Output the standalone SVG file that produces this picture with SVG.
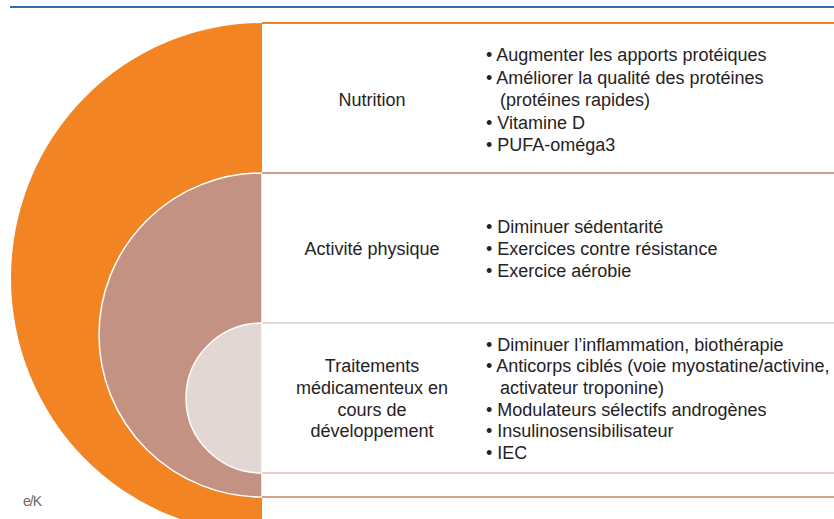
<svg xmlns="http://www.w3.org/2000/svg" width="834" height="519" viewBox="0 0 834 519">
<style>
text{font-family:"Liberation Sans",Arial,sans-serif;font-size:18px;fill:#262224}
.lbl{text-anchor:middle}
.rule{stroke-width:2;fill:none}
</style>
<rect x="0" y="0" width="834" height="519" fill="#ffffff"/>
<line x1="10" y1="7" x2="834" y2="7" stroke="#2f6fae" stroke-width="2"/>
<g id="discs">
<path id="disc-orange" d="M262,23 A251,255 0 0 0 262,533 Z" fill="#f38424"/>
<path id="disc-brown" d="M262,173 A163,162 0 0 0 262,497 Z" fill="#c39282" stroke="#ffffff" stroke-width="1.5"/>
<path id="disc-light" d="M262,323 A76,75 0 0 0 262,473 Z" fill="#e3d7d3" stroke="#ffffff" stroke-width="1.5"/>
</g>
<g id="connectors">
<line class="rule" x1="262" y1="23" x2="834" y2="23" stroke="#f38424"/>
<line class="rule" x1="262" y1="173" x2="834" y2="173" stroke="#c9a08f"/>
<line class="rule" x1="262" y1="323" x2="834" y2="323" stroke="#e6d8d4"/>
<line class="rule" x1="262" y1="473" x2="834" y2="473" stroke="#e0cfca"/>
<line class="rule" x1="262" y1="497" x2="834" y2="497" stroke="#d2a48c"/>
</g>
<g id="nutrition">
<text class="lbl" x="372" y="106">Nutrition</text>
<text x="486" y="61">• Augmenter les apports protéiques</text>
<text x="486" y="83.5">• Améliorer la qualité des protéines</text>
<text x="500" y="106">(protéines rapides)</text>
<text x="486" y="128.5">• Vitamine D</text>
<text x="486" y="151">• PUFA-oméga3</text>
</g>
<g id="activite">
<text class="lbl" x="372" y="255">Activité physique</text>
<text x="486" y="233">• Diminuer sédentarité</text>
<text x="486" y="255">• Exercices contre résistance</text>
<text x="486" y="277">• Exercice aérobie</text>
</g>
<g id="traitements">
<text class="lbl" x="372" y="372.2">Traitements</text>
<text class="lbl" x="372" y="393.9">médicamenteux en</text>
<text class="lbl" x="372" y="415.6">cours de</text>
<text class="lbl" x="372" y="437.3">développement</text>
<text x="486" y="350.5">• Diminuer l’inflammation, biothérapie</text>
<text x="486" y="372.2">• Anticorps ciblés (voie myostatine/activine,</text>
<text x="500" y="393.9">activateur troponine)</text>
<text x="486" y="415.6">• Modulateurs sélectifs androgènes</text>
<text x="486" y="437.3">• Insulinosensibilisateur</text>
<text x="486" y="459">• IEC</text>
</g>
<text x="23" y="506" style="font-size:14px;fill:#6a6a6a;letter-spacing:-1px">e/K</text>
</svg>
